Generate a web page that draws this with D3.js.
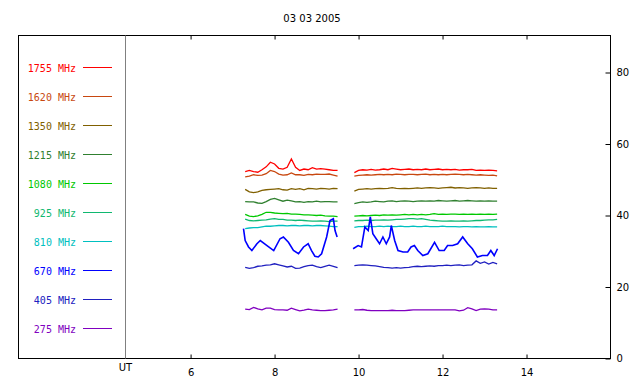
<!DOCTYPE html>
<meta charset="utf-8">
<style>body{margin:0;background:#fff}</style>
<svg width="640" height="384"></svg>
<script src="https://cdn.jsdelivr.net/npm/d3@7"></script>
<script>
const title = "03 03 2005";
const freqs = ["1755", "1620", "1350", "1215", "1080", "925", "810", "670", "405", "275"];
const colors = ["#ff0000", "#c84810", "#806000", "#308030", "#00c800", "#10b870", "#00c0c0", "#0000ff", "#2020c0", "#8000c0"];
const xTicks = [6, 8, 10, 12, 14];
const yTicks = [0, 20, 40, 60, 80];

// common time grids (UT hours) for the two recording blocks
const hoursA = [7.3,7.4,7.5,7.6,7.7,7.8,7.9,8.0,8.1,8.2,8.3,8.4,8.5,8.6,8.7,8.8,8.9,9.0,9.1,9.2,9.3,9.4,9.5];
const hoursB = [9.9,10.0,10.1,10.2,10.3,10.4,10.5,10.6,10.7,10.8,10.9,11.0,11.1,11.2,11.3,11.4,11.5,11.6,11.7,11.8,11.9,12.0,12.1,12.2,12.3,12.4,12.5,12.6,12.7,12.8,12.9,13.0,13.1,13.2,13.3];

const f1755A = [52.3,52.6,52.3,52.1,52.8,53.6,54.9,54.4,53.2,53.0,53.5,55.8,53.5,52.6,53.0,52.8,53.4,53.0,53.1,53.0,52.8,52.6,52.6];
const f1755B = [52.0,52.6,52.8,52.7,52.9,52.7,52.8,53.0,52.8,53.2,53.0,52.8,52.9,53.0,52.8,52.9,52.8,53.0,52.8,52.9,53.0,52.8,52.9,52.8,52.9,52.7,52.8,52.8,52.9,52.6,52.7,52.6,52.7,52.6,52.5];
const f1620A = [50.8,51.0,51.4,51.2,51.3,51.7,52.6,52.3,51.6,51.3,51.4,51.9,51.4,51.4,51.2,51.5,51.4,51.6,51.5,51.5,51.6,51.3,51.0];
const f1620B = [51.0,51.2,51.3,51.4,51.3,51.4,51.5,51.4,51.5,51.4,51.6,51.5,51.4,51.5,51.5,51.4,51.5,51.6,51.4,51.5,51.4,51.5,51.4,51.5,51.6,51.5,51.4,51.5,51.4,51.3,51.4,51.3,51.2,51.3,51.1];
const f1350A = [47.3,46.6,46.4,46.6,47.0,47.2,47.3,47.4,47.5,47.2,47.1,47.5,47.3,47.5,47.2,47.6,47.5,47.4,47.6,47.5,47.4,47.6,47.5];
const f1350B = [46.8,47.3,47.4,47.5,47.4,47.5,47.6,47.5,47.6,47.8,47.6,47.5,47.6,47.5,47.6,47.7,47.6,47.7,47.8,47.7,47.6,47.7,47.8,47.9,47.7,47.8,47.7,47.6,47.7,47.8,47.7,47.6,47.7,47.6,47.6];
const f1215A = [43.9,43.8,43.8,43.5,43.4,43.9,44.5,44.8,44.4,44.0,44.3,44.1,43.8,43.9,43.7,43.9,43.8,44.0,43.8,43.9,43.9,43.8,43.8];
const f1215B = [43.3,43.6,43.8,43.7,43.8,44.0,43.9,43.8,44.0,44.1,43.9,44.0,44.1,44.0,43.9,44.0,44.1,44.0,44.1,44.0,44.2,44.1,44.0,44.1,44.2,44.0,44.1,44.2,44.1,44.0,44.1,44.0,44.1,44.0,44.0];
const f1080A = [40.3,39.8,39.7,39.9,40.3,40.9,40.9,40.7,40.6,40.5,40.6,40.4,40.4,40.3,40.2,40.2,40.1,40.0,40.1,39.9,39.8,39.8,39.7];
const f1080B = [39.8,39.9,40.0,39.9,40.0,40.1,40.0,40.2,40.1,40.2,40.1,40.2,40.3,40.2,40.3,40.2,40.3,40.2,40.3,40.5,40.3,40.4,40.3,40.4,40.4,40.3,40.4,40.3,40.4,40.3,40.4,40.3,40.4,40.3,40.4];
const f925A = [39.0,38.6,38.5,38.6,38.7,38.8,39.0,39.1,38.9,38.9,38.7,38.7,38.6,38.7,38.6,38.5,38.4,38.4,38.5,38.4,38.3,38.4,38.4];
const f925B = [38.5,38.6,38.6,38.7,38.6,38.7,38.7,38.8,38.7,38.8,38.9,38.9,39.0,39.1,39.1,39.0,39.1,38.9,38.7,38.6,38.5,38.4,38.4,38.5,38.4,38.4,38.5,38.4,38.5,38.6,38.6,38.7,38.8,38.8,38.9];
const f810A = [36.3,36.5,36.6,36.6,36.8,37.0,37.0,37.1,37.2,37.2,37.1,37.2,37.2,37.1,37.2,37.2,37.1,37.2,37.2,37.1,37.0,36.9,36.9];
const f810B = [36.7,36.9,36.9,37.0,36.9,36.9,37.0,36.9,37.0,36.9,36.9,37.0,36.9,36.9,37.0,36.9,36.9,37.0,36.9,36.9,36.9,37.0,36.9,36.9,36.9,36.8,36.9,36.9,36.8,36.9,36.8,36.8,36.9,36.8,36.8];
const f405A = [25.5,25.2,25.4,25.8,25.9,26.1,26.2,26.5,26.2,25.9,25.6,25.8,25.2,25.3,25.7,26.0,26.1,25.7,25.4,25.8,26.1,25.8,25.4];
const f405B = [26.0,26.1,26.2,26.1,26.0,25.9,25.7,25.5,25.4,25.3,25.4,25.3,25.4,25.5,25.7,25.8,25.7,25.8,25.9,25.8,26.0,26.0,26.1,26.0,26.1,26.2,26.0,26.1,26.2,27.3,26.6,27.0,26.4,26.9,26.5];
const f275A = [13.8,13.7,14.3,13.9,13.6,14.1,14.1,13.7,13.6,13.6,13.5,14.1,13.7,13.3,13.5,13.8,13.6,13.5,13.4,13.4,13.5,13.6,13.8];
const f275B = [13.6,13.6,13.7,13.5,13.4,13.4,13.4,13.4,13.4,13.5,13.4,13.4,13.4,13.5,13.6,13.6,13.6,13.6,13.6,13.6,13.6,13.6,13.6,13.6,13.6,13.3,13.5,14.2,13.9,13.4,13.8,13.9,13.8,13.6,13.6];

// 670 MHz is much more variable, sampled on its own times
const hours670A = [7.26,7.30,7.38,7.46,7.58,7.66,7.82,7.98,8.13,8.21,8.33,8.45,8.57,8.69,8.80,8.88,8.96,9.04,9.12,9.24,9.32,9.40,9.44,9.49];
const f670A = [36.3,33.0,31.2,30.2,32.1,33.0,31.6,30.2,33.5,34.0,32.5,30.2,29.3,31.2,32.1,30.2,28.6,28.4,29.3,34.0,38.6,39.1,35.8,34.0];
const hours670B = [9.87,9.99,10.07,10.15,10.23,10.28,10.34,10.42,10.50,10.58,10.66,10.74,10.78,10.86,10.94,11.06,11.17,11.25,11.33,11.41,11.53,11.65,11.81,11.92,12.04,12.12,12.24,12.36,12.48,12.60,12.71,12.83,12.95,13.07,13.15,13.23,13.31];
const f670B = [30.7,31.6,31.2,36.8,35.8,39.6,34.9,33.5,32.1,34.0,32.1,34.0,37.2,33.0,30.2,29.8,29.8,31.2,31.6,30.2,28.8,29.3,32.5,30.2,30.2,31.6,31.6,32.1,34.0,32.1,30.7,28.4,28.8,28.8,30.2,28.8,30.7];

const series = [
  [[hoursA, f1755A], [hoursB, f1755B]],
  [[hoursA, f1620A], [hoursB, f1620B]],
  [[hoursA, f1350A], [hoursB, f1350B]],
  [[hoursA, f1215A], [hoursB, f1215B]],
  [[hoursA, f1080A], [hoursB, f1080B]],
  [[hoursA, f925A], [hoursB, f925B]],
  [[hoursA, f810A], [hoursB, f810B]],
  [[hours670A, f670A], [hours670B, f670B]],
  [[hoursA, f405A], [hoursB, f405B]],
  [[hoursA, f275A], [hoursB, f275B]]
];

var svg = d3.select("svg"),
    frameL = 18.5, divider = 125.5, frameR = 610.5, frameT = 35.5, frameB = 358.5;

var x = d3.scaleLinear().domain([4.45, 16]).range([divider, frameR]);
var y = d3.scaleLinear().domain([0, 90]).range([frameB, frameB - 90 * 3.575]);

svg.append("text")
    .attr("x", 312).attr("y", 22)
    .attr("text-anchor", "middle")
    .style("font", "10px 'DejaVu Sans'")
    .text(title);

// frame
svg.append("rect")
    .attr("x", frameL).attr("y", frameT)
    .attr("width", frameR - frameL).attr("height", frameB - frameT)
    .attr("fill", "none").attr("stroke", "#000");
svg.append("line")
    .attr("x1", divider).attr("x2", divider)
    .attr("y1", frameT).attr("y2", frameB)
    .attr("stroke", "#808080");

var bottomAxis = svg.append("g")
    .attr("transform", "translate(0," + frameB + ")")
    .call(d3.axisBottom(x).tickValues(xTicks).tickSizeInner(-4).tickSizeOuter(0).tickPadding(10));
var topAxis = svg.append("g")
    .attr("transform", "translate(0," + frameT + ")")
    .call(d3.axisTop(x).tickValues(xTicks).tickSizeInner(-4).tickSizeOuter(0).tickFormat(""));
var rightAxis = svg.append("g")
    .attr("transform", "translate(" + frameR + ",0)")
    .call(d3.axisRight(y).tickValues(yTicks).tickSizeInner(-5).tickSizeOuter(0).tickPadding(6));

[bottomAxis, topAxis, rightAxis].forEach(function(g) {
  g.select(".domain").remove();
  g.selectAll("text").style("font", "10px 'DejaVu Sans'").attr("fill", "#000");
});
rightAxis.selectAll("text").attr("x", 6);

svg.append("text")
    .attr("x", divider).attr("y", 371)
    .attr("text-anchor", "middle")
    .style("font", "10px 'DejaVu Sans'")
    .text("UT");

// legend
var legend = svg.append("g");
freqs.forEach(function(f, i) {
  var ly = 67.5 + i * 29;
  legend.append("text")
      .attr("x", 76).attr("y", ly + 4)
      .attr("text-anchor", "end")
      .attr("fill", colors[i])
      .style("font", "10px 'DejaVu Sans Mono'")
      .text(f + " MHz");
  legend.append("line")
      .attr("x1", 83).attr("x2", 112)
      .attr("y1", ly).attr("y2", ly)
      .attr("stroke", colors[i]);
});

// traces
var line = d3.line()
    .x(function(d) { return x(d[0]); })
    .y(function(d) { return y(d[1]); });

series.forEach(function(segs, i) {
  segs.forEach(function(seg) {
    svg.append("path")
        .datum(d3.zip(seg[0], seg[1]))
        .attr("d", line)
        .attr("fill", "none")
        .attr("stroke", colors[i])
        .attr("stroke-width", i === 7 ? 1.6 : 1.3);
  });
});
</script>
